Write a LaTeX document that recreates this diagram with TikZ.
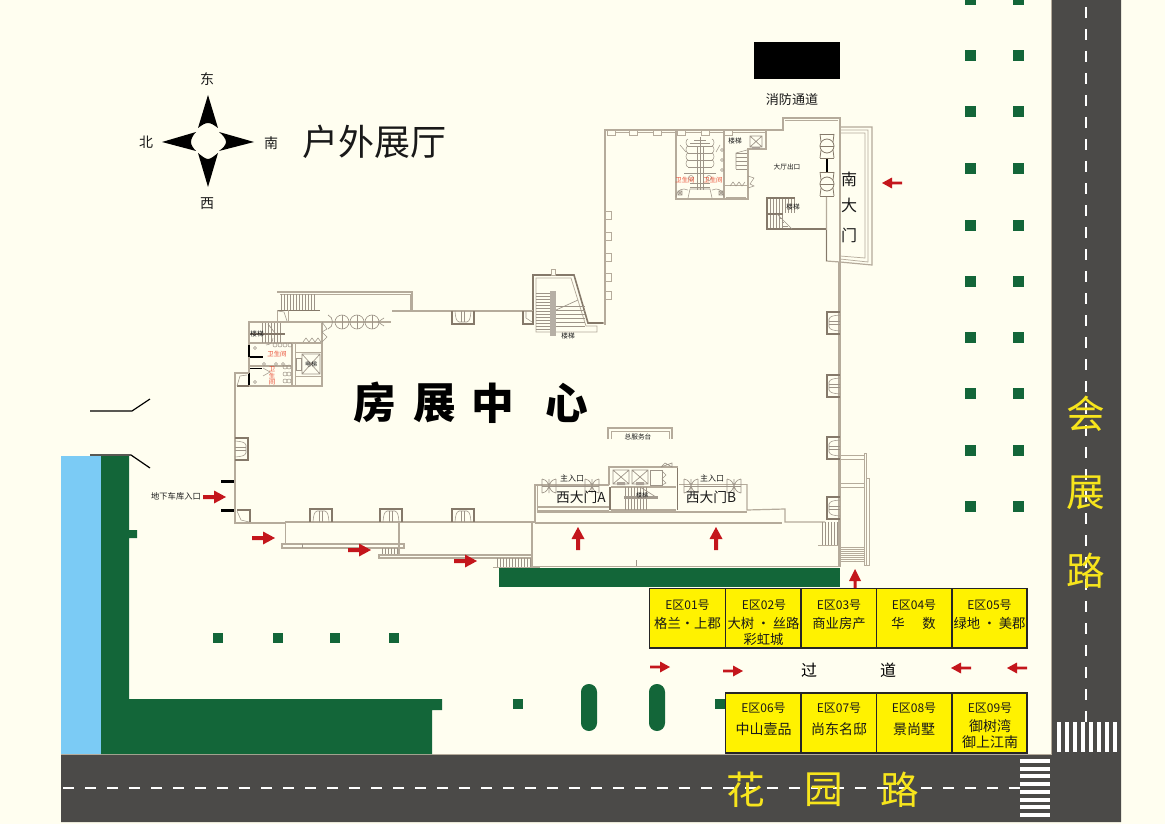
\documentclass[tikz,border=0pt]{standalone}
\usepackage{fontspec}
\newfontfamily\cjk{Noto Sans CJK SC}
\newcommand{\cn}[1]{\cjk\fontsize{#1}{#1}\selectfont}
\definecolor{creambg}{HTML}{FFFEF0}
\definecolor{roadc}{HTML}{4B4A48}
\definecolor{greenc}{HTML}{136639}
\definecolor{bluec}{HTML}{7BCBF5}
\definecolor{yel}{HTML}{FFF200}
\definecolor{redc}{HTML}{C4161C}
\definecolor{wallc}{HTML}{B5AB9B}
\definecolor{walld}{HTML}{85796A}
\definecolor{roadtxt}{HTML}{F7E51C}
\definecolor{toiletred}{HTML}{E8452C}
\tikzset{
  wall/.style={draw=wallc,line width=0.9pt},
  wallthin/.style={draw=wallc,line width=0.55pt},
  walldark/.style={draw=walld,line width=1.2pt},
  wallfine/.style={draw=walld!80!white,line width=0.4pt},
  hatchline/.style={draw=walld!80!white,line width=0.5pt},
  blackline/.style={draw=black,line width=0.9pt},
  greenfill/.style={fill=greenc,draw=none},
  lanemark/.style={draw=white,line width=1.6pt},
  zebra/.style={fill=white,draw=none},
  boothbox/.style={draw=black!85,line width=0.9pt,fill=yel},
  lab/.style={inner sep=0pt,outer sep=0pt,align=center,text=black!90},
  arr/.style={fill=redc,draw=none},
}
% red arrow: local coordinates, tip at the origin, pointing along +x
\newcommand{\bigarrow}[3]{\fill[arr,shift={(#1,#2)},rotate=#3] (0,0)--(-12,6.5)--(-12,2)--(-23,2)--(-23,-2)--(-12,-2)--(-12,-6.5)--cycle;}
\newcommand{\smallarrow}[3]{\fill[arr,shift={(#1,#2)},rotate=#3] (0,0)--(-10,5.5)--(-10,1.4)--(-20,1.4)--(-20,-1.4)--(-10,-1.4)--(-10,-5.5)--cycle;}
% column pocket on a wall, base centre at given point
\newcommand{\colm}[3]{\begin{scope}[shift={(#1,#2)},rotate=#3]
  \draw[walldark] (-11,0)--(-11,-13)--(11,-13)--(11,0);
  \draw[wallfine] (-8,0) .. controls (-7.5,-6) and (-7,-10) .. (-4,-11)--(4,-11) .. controls (7,-10) and (7.5,-6) .. (8,0);
  \draw[wallfine] (-1.5,0)--(-1.5,-11) (1.5,0)--(1.5,-11);
\end{scope}}
% double leaf door: axis along local x
\newcommand{\leafdoor}[3]{\begin{scope}[shift={(#1,#2)},rotate=#3]
  \draw[wallfine,line width=0.5pt] (-7,-7)--(-7,7) (0,-7)--(0,7) (7,-7)--(7,7)
    (-7,-7) .. controls (-2,-6) and (-1,-3) .. (0,0) .. controls (1,-3) and (2,-6) .. (7,-7)
    (-7,7) .. controls (-2,6) and (-1,3) .. (0,0) .. controls (1,3) and (2,6) .. (7,7);
  \draw[wallfine] (-7,0)--(7,0);
\end{scope}}
% tall door of the south gate
\newcommand{\gatedoor}[2]{\begin{scope}[shift={(#1,#2)}]
  \draw[walldark,line width=0.6pt] (-7,-12)--(7,-12) (-7,0)--(7,0) (-7,12)--(7,12);
  \draw[walldark,line width=0.6pt] (0,0) circle (7);
  \draw[walldark,line width=0.6pt] (-7,-12)--(-6,-4) (7,-12)--(6,-4) (-7,12)--(-6,4) (7,12)--(6,4);
\end{scope}}
\newcommand{\crossbox}[4]{\draw[wallfine,line width=0.5pt] (#1,#2) rectangle (#3,#4) (#1,#2)--(#3,#4) (#1,#4)--(#3,#2);}
\newcommand{\lbl}[6][]{\node[lab,#1] (#2) at (#3,#4) {\cn{#5}#6};}
\begin{document}
\begin{tikzpicture}[x=0.75pt,y=-0.75pt]
\useasboundingbox (0,0) rectangle (1165,824);
\fill[creambg] (0,0) rectangle (1165,824);

% ---------- roads
\fill[roadc] (1051,0)--(1121,0)--(1121,822)--(61,822)--(61,754)--(1051,754)--cycle;
\draw[wallc,line width=0.6pt] (1051,0)--(1051,754)--(61,754);
\foreach \yy in {7,29,...,719} \draw[lanemark] (1086,\yy)--(1086,\yy+11);
\foreach \xx in {63,85,...,1010} \draw[lanemark] (\xx,788)--(\xx+11,788);
\foreach \yy in {761,769,776,784,792,800,807,815} \fill[zebra] (1020,\yy-1.8) rectangle (1050,\yy+1.8);
\foreach \xx in {1059,1067,1075,1083,1091,1099,1107,1115} \fill[zebra] (\xx-2,722) rectangle (\xx+2,752);

% ---------- water and green belts
\fill[bluec] (61,456) rectangle (101,754);
\fill[greenfill] (101,456)--(129,456)--(129,530)--(137,530)--(137,538)--(129,538)--(129,699)--(442,699)--(442,710)--(432,710)--(432,754)--(101,754)--cycle;
\fill[greenfill] (499,568) rectangle (840,587);
\foreach \yy in {0,56,112,168.5,225,281,337,393,450,506}
  \foreach \xx in {970,1018} \fill[greenfill] (\xx-5.5,\yy-5.5) rectangle (\xx+5.5,\yy+5.5);
\foreach \xx in {218,278,335,394} \fill[greenfill] (\xx-5,633) rectangle (\xx+5,643);
\fill[greenfill] (513,699) rectangle (523,709);
\fill[greenfill] (715,699) rectangle (726,709);
\fill[greenfill,rounded corners=7.9pt*0.75] (581,684) rectangle (597,731);
\fill[greenfill,rounded corners=7.9pt*0.75] (649,684) rectangle (665,731);

% ---------- garage entrance marks
\draw[blackline] (90,411)--(132,411)--(150,399);
\draw[blackline] (90,455)--(131,455)--(150,468);
\fill[black] (221,479.5) rectangle (234,482.5);
\fill[black] (221,508.5) rectangle (234,511.5);
\fill[black] (754,42) rectangle (840,79);

% ---------- compass
\fill[black] (208,95)--(198,128) .. controls (202,125) and (205,123) .. (208,123) .. controls (211,123) and (214,125) .. (218,128)--cycle;
\fill[black] (208,187)--(198,153) .. controls (202,156) and (205,159) .. (208,159) .. controls (211,159) and (214,156) .. (218,153)--cycle;
\fill[black] (162,142)--(196,132) .. controls (193,135) and (191,139) .. (191,142) .. controls (191,145) and (193,148) .. (196,151)--cycle;
\fill[black] (254,142)--(219,132) .. controls (223,135) and (226,139) .. (226,142) .. controls (226,145) and (223,148) .. (219,151)--cycle;
\lbl{dirE}{207}{79}{10.5}{东}
\lbl{dirW}{207}{204}{10.5}{西}
\lbl{dirN}{146}{142}{10.5}{北}
\lbl{dirS}{271}{143}{10.5}{南}
\lbl{outdoor}{374}{142}{27}{户外展厅}

% ---------- building: east (south hall) part
\draw[wall] (605,325)--(605,130)--(783,130)--(783,118)--(840,118)--(840,127);
\draw[wallthin] (607,132)--(767,132);
\foreach \xx in {611,633,657,681,705,728} \draw[wallthin,fill=creambg] (\xx-4,130) rectangle (\xx+4,135);
\foreach \yy in {215,236,257,277,295} \draw[wallthin,fill=creambg] (605,\yy-4) rectangle (611,\yy+4);
\draw[wallthin] (785,120)--(838,120);
\draw[wall] (840,127)--(872,127)--(872,265)--(840,262);
\draw[wallthin] (840,130)--(868,130)--(868,262)--(840,259);
\draw[wallthin] (840,133)--(865,133)--(865,258)--(840,256);
\draw[wall] (840,127)--(840,567);
\draw[wallthin] (838,262)--(838,567);
\draw[wall] (826.5,197)--(826.5,261)--(840,262);
\draw[walldark] (826.5,230)--(826.5,261);
\draw[black,line width=1pt] (827,158)--(827,172);
\gatedoor{827}{146}
\gatedoor{827}{184}
% stairs
\draw[walldark] (795,198)--(767,198)--(767,229)--(826,229);
\draw[walldark] (767,214)--(783,214);
\foreach \xx in {770,773,...,794} \draw[hatchline] (\xx,199)--(\xx,213);
\foreach \xx in {770,773,...,782} \draw[hatchline] (\xx,215)--(\xx,228);
\draw[hatchline] (777,214)--(792,229);
\foreach \yy in {218,222,226} \draw[hatchline] (783,\yy)--(788+\yy-226,\yy);
\lbl{stS}{793}{207}{5}{楼梯}
\lbl{hallexit}{787}{167}{5}{大厅出口}
% toilets / service block
\draw[wall] (676,131)--(676,199)--(748,199)--(748,149)--(766,149)--(766,130);
\draw[wall] (724,131)--(724,199);
\draw[wallthin] (726,197)--(746,197) (724,185)--(748,185);
\crossbox{750}{136}{762}{147}
\fill[walld!70!white] (752,147) rectangle (760,149);
\lbl{stT}{735}{141}{5}{楼梯}
\foreach \yy in {153,157,...,169} \draw[hatchline] (736,\yy)--(747,\yy);
\draw[wallfine] (736,153)--(736,169) (736,153)--(747,150);
\draw[wallfine] (730,186)--(733,182)--(736,186)--(739,182)--(742,186)--(745,182);
\draw[wallfine] (748,176)--(754,178)--(750,184)--(754,186)--(748,188);
\draw[wallfine] (700,137)--(700,190) (697,146)--(697,190) (703,146)--(703,190);
\foreach \yy in {146,153,160,167} {
  \draw[hatchline] (688,\yy)--(712,\yy);
  \draw[wallfine] (688,\yy) arc (90:270:2 and 3.5);
  \draw[wallfine] (712,\yy) arc (90:-90:2 and 3.5);
}
\draw[wallfine] (694,140)--(706,140) (690,143)--(710,143);
\draw[wallfine] (684,173)--(716,173) (690,183)--(710,183) (690,187)--(710,187);
\draw[wallfine] (691,178) circle (2.5) (709,178) circle (2.5);
\draw[wallfine] (690,189)--(710,189)--(712,198) (690,189)--(688,198);
\draw[wallfine] (680,145)--(686,152) (720,145)--(716,152);
\draw[wallfine] (676,197) arc (180:300:8);
\draw[wallfine] (724,197) arc (0:-120:8);
\foreach \yy in {150,160,170} \draw[wallfine] (722,\yy) circle (1.5);
\crossbox{678}{191}{682}{195}
\crossbox{719}{191}{723}{195}
\lbl[text=toiletred]{wcA}{685}{180}{4.8}{卫生间}
\lbl[text=toiletred]{wcB}{713}{180}{4.8}{卫生间}

% ---------- stair tower
\draw[walldark] (533,312)--(533,275)--(574,275)--(588,323)--(603,323);
\draw[wallthin] (536,312)--(536,278)--(571,278)--(586,326)--(597,326)--(597,332)--(536,332)--(536,312);
\draw[wall] (603,323)--(605,323);
\fill[walld!60!white] (550,291) rectangle (556,336);
\foreach \yy in {293,296,...,330} \draw[hatchline] (536,\yy)--(550,\yy);
\foreach \yy in {306,310,...,326} \draw[hatchline] (556,\yy)--(585,\yy);
\draw[hatchline] (556,310)--(578,300);
\lbl{stU}{568}{336}{5}{楼梯}
\fill[creambg,draw=wallc,line width=0.4pt] (551,269) rectangle (555,275);

% ---------- north wall and terrace
\draw[wall] (392,311)--(533,311);
\draw[wall] (412,311)--(412,292)--(277,292);
\draw[wallthin] (410,311)--(410,294)--(280,294);
\foreach \xx in {281,284,...,314} \draw[hatchline] (\xx,294)--(\xx,310);
\draw[walldark] (278,310.5)--(320,310.5);
\draw[wall] (288,322)--(391,322);
\colm{463}{311}{180}
\draw[walldark] (523,311)--(523,324)--(533,324)--(533,311);
\draw[wallfine] (526,311)--(526,318)--(532,322);
\draw[wallthin] (277,310)--(277,322)--(288,322) (288,310)--(288,322);
\draw[wallfine] (278,311)--(284,312)--(287,321);
% revolving doors
\foreach \xx in {342,357,372} {
  \draw[wallfine,line width=0.5pt] (\xx,322) circle (7);
  \draw[wallfine] (\xx,315)--(\xx,329);
}
\draw[wallfine,line width=0.5pt] (328,315) .. controls (334,317) and (334,327) .. (328,329);
\draw[wallfine,line width=0.5pt] (384,318)--(378,322)--(384,326);

% ---------- west service block
\draw[wall] (249,386)--(249,322)--(288,322);
\draw[wall] (322,322)--(322,386)--(249,386);
\draw[walldark] (250,334)--(285,334);
\draw[wall] (250,343)--(322,343);
\foreach \xx in {262,265,...,282} \draw[hatchline] (\xx,335)--(\xx,343);
\foreach \xx in {262,265,...,280} \draw[hatchline] (\xx,323)--(\xx,333);
\draw[hatchline] (268,324)--(275,333);
\lbl{stV}{257}{334}{5}{楼梯}
\draw[wall] (292,343)--(292,386) (250,366)--(292,366);
\draw[wallthin] (295,343)--(295,386) (295,352)--(322,352) (295,376)--(322,376);
\crossbox{302}{354}{320}{374}
\lbl{liftV}{311}{364}{4.5}{电梯}
\draw[wallfine] (296,358) rectangle (301,370);
\draw[wallfine] (303,342)--(306,338)--(309,342)--(312,338)--(315,342)--(318,338)--(321,342);
\draw[wallfine] (322,332)--(327,329)--(322,322) (322,332)--(327,337)--(322,342);
\draw[black,line width=1.2pt] (249,345)--(249,357) (249,373)--(249,385) (250,357)--(263,357);
\draw[black,line width=0.7pt] (250,368)--(262,368);
\foreach \xx in {264,276,283} \draw[wallfine] (\xx,364) circle (1.5);
\foreach \xx in {275,280,285,290} \draw[wallfine] (\xx,345) circle (2);
\foreach \yy in {367,374,381} \draw[wallfine] (285,\yy) circle (2) (289,\yy) circle (2);
\draw[wallfine] (266,345) arc (90:0:7) (263,368)--(270,372)--(263,376) (255,348) circle (1.5) (255,382) circle (1.5);
\lbl[text=toiletred]{wcC}{277}{354}{4.8}{卫生间}
\lbl[text=toiletred]{wcD1}{272}{369}{4.8}{卫}
\lbl[text=toiletred]{wcD2}{272}{375.5}{4.8}{生}
\lbl[text=toiletred]{wcD3}{272}{382}{4.8}{间}
% corner and west wall
\draw[wall] (249,373)--(235,373)--(235,523)--(285,523);
\draw[walldark] (237,386)--(249,386);
\draw[wallfine] (237,386)--(240,376)--(247,375);
\colm{235}{449}{-90}
\draw[walldark] (250,522)--(250,510)--(237,510);
\draw[wallfine] (237,511)--(241,520)--(249,522);

% ---------- south side wall and terraces
\draw[wall] (285,522)--(535,522);
\colm{321}{522}{0}
\colm{391}{522}{0}
\colm{463}{522}{0}
\draw[wall] (285.5,522)--(285.5,544);
\draw[wall,fill=creambg] (282,544) rectangle (404,548);
\draw[wallfine] (302,544)--(302,548);
\draw[wall] (399,522)--(399,556);
\foreach \xx in {382,385,...,399} \draw[hatchline] (\xx,548)--(\xx,556);
\draw[wall,fill=creambg] (379,555) rectangle (532,558);
\foreach \xx in {497,500,...,531} \draw[hatchline] (\xx,558)--(\xx,567);
\draw[wall] (493,567.5)--(540,567.5);
\draw[wall] (532,523)--(532,568);

% ---------- west entrance
\draw[wall] (535,523)--(535,485)--(609,485);
\draw[wallthin] (537,511)--(537,485);
\draw[wall] (537,507)--(609,507) (537,511)--(609,511);
\draw[wall] (537,512)--(747,512);
\draw[wall] (535,523)--(782,523);
\draw[wall] (747,484)--(747,510)--(785,509)--(785,522)--(825,522);
\draw[wallthin] (679,484)--(747,484);
\draw[walldark] (610,487)--(610,510);
\draw[walldark] (677.5,467)--(677.5,510);
\draw[wall] (609,485)--(609,467)--(678,467);
\draw[wall] (611,487)--(676,487);
\crossbox{613}{470}{629}{484}
\crossbox{632}{470}{648}{484}
\fill[walld!70!white] (617,482) rectangle (625,485) (636,482) rectangle (644,485);
\draw[wallfine] (650,470) rectangle (662,485);
\draw[wallfine] (662,471)--(666,475)--(662,479)--(666,483)--(662,485);
\draw[wall] (611,510)--(676,510);
\foreach \xx in {625,628,...,647} \draw[hatchline] (\xx,487)--(\xx,510);
\draw[hatchline] (640,487)--(656,497);
\fill[walld!75!white] (624,496) rectangle (658,498.5);
\lbl{stW}{642}{495}{4.5}{楼梯}
\draw[wallfine,line width=0.5pt] (661,467)--(665,463)--(672,467)--(672,463)--(661,467);
\leafdoor{549}{486}{0}
\leafdoor{592}{486}{0}
\leafdoor{691}{486}{0}
\leafdoor{734}{486}{0}
\draw[wallfine] (556,486)--(585,486) (698,486)--(727,486);
\lbl{mainA}{572}{478}{6}{主入口}
\lbl{mainB}{712}{478}{6}{主入口}
\lbl{westA}{581}{497}{10.3}{西大门A}
\lbl{westB}{711}{497}{10.3}{西大门B}
% service desk
\draw[wall] (608,439)--(608,428)--(672,428)--(672,439);
\draw[wallthin] (611,439)--(611,431)--(669,431)--(669,439);
\lbl{desk}{638}{437}{5}{总服务台}

% ---------- east side
\colm{840}{323}{90}
\colm{840}{386}{90}
\colm{840}{448}{90}
\colm{840}{508}{90}
\draw[wallthin] (840,455)--(864,455) (840,459.5)--(864,459.5) (840,483)--(864,483) (840,487.5)--(864,487.5);
\draw[wallthin] (864,453)--(866,453)--(866,565)--(864,565)--cycle;
\draw[wallthin] (866,478)--(869,478)--(869,565)--(866,565);
\foreach \xx in {822,825,...,838} \draw[hatchline] (\xx,522)--(\xx,545);
\draw[wall] (818,545.5)--(840,545.5);
\foreach \yy in {547,549,...,561} \draw[wallc,line width=0.7pt] (841,\yy)--(864,\yy);
% south yard line
\draw[wall] (532,566.5)--(840,566.5);
\draw[wallfine] (636,560)--(636,566);

% ---------- big labels
\lbl{fire}{792}{100}{9.8}{消防通道}
\lbl{gateA}{849}{179}{12}{南}
\lbl{gateB}{849}{205}{12}{大}
\lbl{gateC}{849}{235}{12}{门}
\node[lab,text=black] (hall1) at (375,403) {\cn{32}\bfseries 房};
\node[lab,text=black] (hall2) at (435,403) {\cn{32}\bfseries 展};
\node[lab,text=black] (hall3) at (493,403) {\cn{32}\bfseries 中};
\node[lab,text=black] (hall4) at (567,403) {\cn{32}\bfseries 心};
\lbl{garage}{176}{496}{6.2}{地下车库入口}
\lbl[text=roadtxt]{roadE1}{1086}{414}{29}{会}
\lbl[text=roadtxt]{roadE2}{1086}{493}{29}{展}
\lbl[text=roadtxt]{roadE3}{1086}{571}{29}{路}
\lbl[text=roadtxt]{roadS1}{746}{790}{29}{花}
\lbl[text=roadtxt]{roadS2}{824}{790}{29}{园}
\lbl[text=roadtxt]{roadS3}{900}{790}{29}{路}

% ---------- booths
\foreach \a/\b in {649.5/725.5,725.5/801,801/876.5,876.5/952,952/1027} \draw[boothbox] (\a,588.5) rectangle (\b,648);
\foreach \a/\b in {725.5/801,801/876.5,876.5/952,952/1027} \draw[boothbox] (\a,693) rectangle (\b,753);
\lbl{b01}{687.5}{605}{9}{E区01号}
\lbl{b01a}{687.5}{623}{10}{格兰·上郡}
\lbl{b02}{764}{605}{9}{E区02号}
\lbl{b02a}{763.5}{623}{10}{大树\hspace{0.2em}·\hspace{0.2em}丝路}
\lbl{b02b}{763.5}{639}{10}{彩虹城}
\lbl{b03}{839}{605}{9}{E区03号}
\lbl{b03a}{839}{623}{10}{商业房产}
\lbl{b04}{914}{605}{9}{E区04号}
\lbl{b04a}{898}{623}{10}{华}
\lbl{b04b}{929}{623}{10}{数}
\lbl{b05}{989.5}{605}{9}{E区05号}
\lbl{b05a}{989.5}{623}{10}{绿地\hspace{0.2em}·\hspace{0.2em}美郡}
\lbl{b06}{763.5}{708}{9}{E区06号}
\lbl{b06a}{763.5}{729}{10.5}{中山壹品}
\lbl{b07}{839}{708}{9}{E区07号}
\lbl{b07a}{839}{729}{10.5}{尚东名邸}
\lbl{b08}{914}{708}{9}{E区08号}
\lbl{b08a}{914}{729}{10.5}{景尚墅}
\lbl{b09}{990}{708}{9}{E区09号}
\lbl{b09a}{990}{726}{10.5}{御树湾}
\lbl{b09b}{990}{742}{10.5}{御上江南}
\lbl[text=black]{passA}{809}{670}{12}{过}
\lbl[text=black]{passB}{888}{670}{12}{道}

% ---------- arrows
\bigarrow{226}{497}{0}
\bigarrow{275}{538}{0}
\bigarrow{371}{550}{0}
\bigarrow{477}{561}{0}
\bigarrow{578}{527}{90}
\bigarrow{716}{527}{90}
\fill[arr] (855,569)--(849,581)--(853.5,581)--(853.5,588)--(856.5,588)--(856.5,581)--(861,581)--cycle;
\smallarrow{882}{183}{180}
\smallarrow{670}{667}{0}
\smallarrow{743}{671}{0}
\smallarrow{951}{668}{180}
\smallarrow{1007}{668}{180}
\end{tikzpicture}
\end{document}
